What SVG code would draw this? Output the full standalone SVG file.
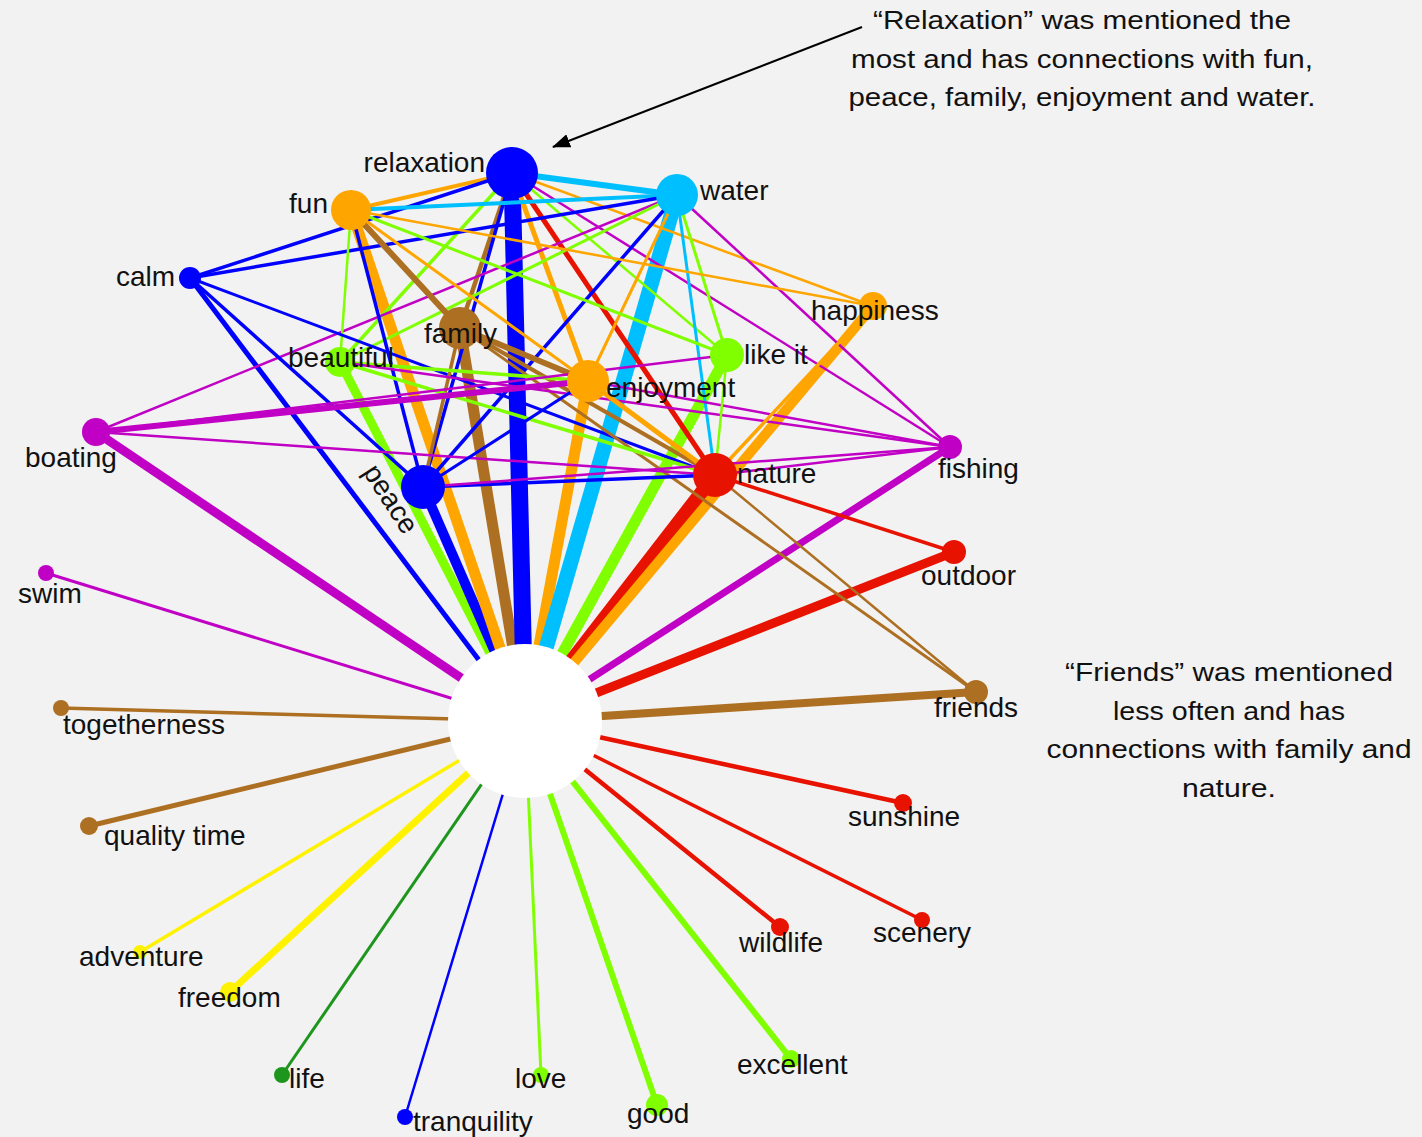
<svg xmlns="http://www.w3.org/2000/svg" width="1422" height="1137" viewBox="0 0 1422 1137">
<style>
.bg{fill:#F2F2F2}
line{fill:none}
.sb{stroke:#0000FF}.ss{stroke:#00BFFF}.so{stroke:#FFA500}.sg{stroke:#80FF00}.sn{stroke:#AD6F21}.sm{stroke:#C000C4}.sr{stroke:#E81200}.sy{stroke:#FFF200}.sd{stroke:#1E961E}
.fb{fill:#0000FF}.fs{fill:#00BFFF}.fo{fill:#FFA500}.fg{fill:#80FF00}.fn{fill:#AD6F21}.fm{fill:#C000C4}.fr{fill:#E81200}.fy{fill:#FFF200}.fd{fill:#1E961E}
.lbl{font-family:"Liberation Sans",Arial,sans-serif;font-size:28px;fill:#111}
.note{font-family:"Liberation Sans",Arial,sans-serif;font-size:26px;fill:#111;text-anchor:middle}
</style>
<defs>
<marker id="arrow" markerUnits="userSpaceOnUse" markerWidth="18" markerHeight="14" refX="17" refY="7" orient="auto">
<path d="M0,0 L18,7 L0,14 z" fill="#000"/>
</marker>
</defs>
<rect class="bg" x="0" y="0" width="1422" height="1137"/>
<g id="connectors">
<!-- spokes to hub -->
<line class="sm" x1="96" y1="432" x2="525" y2="721" stroke-width="9"/>
<line class="sb" x1="190" y1="278" x2="525" y2="721" stroke-width="5"/>
<line class="sg" x1="340" y1="362" x2="525" y2="721" stroke-width="9"/>
<line class="sb" x1="423" y1="487" x2="525" y2="721" stroke-width="10"/>
<line class="so" x1="351" y1="210" x2="525" y2="721" stroke-width="11"/>
<line class="sn" x1="460" y1="328" x2="525" y2="721" stroke-width="11"/>
<line class="sb" x1="512" y1="173" x2="525" y2="721" stroke-width="17"/>
<line class="so" x1="588" y1="381" x2="525" y2="721" stroke-width="11"/>
<line class="ss" x1="677" y1="195" x2="525" y2="721" stroke-width="15"/>
<line class="sg" x1="727" y1="355" x2="525" y2="721" stroke-width="11"/>
<line class="sr" x1="715" y1="475" x2="525" y2="721" stroke-width="14"/>
<line class="so" x1="873" y1="306" x2="525" y2="721" stroke-width="10"/>
<line class="sm" x1="950" y1="447" x2="525" y2="721" stroke-width="7"/>
<line class="sr" x1="954" y1="552" x2="525" y2="721" stroke-width="9"/>
<line class="sn" x1="976" y1="692" x2="525" y2="721" stroke-width="8"/>
<line class="sm" x1="46" y1="573" x2="525" y2="721" stroke-width="3"/>
<line class="sn" x1="61" y1="708" x2="525" y2="721" stroke-width="3.5"/>
<line class="sn" x1="89" y1="826" x2="525" y2="721" stroke-width="5"/>
<line class="sy" x1="140" y1="952" x2="525" y2="721" stroke-width="3.5"/>
<line class="sy" x1="230" y1="992" x2="525" y2="721" stroke-width="7"/>
<line class="sd" x1="282" y1="1075" x2="525" y2="721" stroke-width="3"/>
<line class="sb" x1="405" y1="1117" x2="525" y2="721" stroke-width="2.5"/>
<line class="sg" x1="541" y1="1075" x2="525" y2="721" stroke-width="3"/>
<line class="sg" x1="657" y1="1105" x2="525" y2="721" stroke-width="6"/>
<line class="sg" x1="791" y1="1059" x2="525" y2="721" stroke-width="6"/>
<line class="sr" x1="780" y1="927" x2="525" y2="721" stroke-width="4.5"/>
<line class="sr" x1="922" y1="920" x2="525" y2="721" stroke-width="3.5"/>
<line class="sr" x1="903" y1="803" x2="525" y2="721" stroke-width="4.5"/>
<!-- links between words -->
<line class="ss" x1="512" y1="173" x2="677" y2="195" stroke-width="6"/>
<line class="so" x1="512" y1="173" x2="351" y2="210" stroke-width="4"/>
<line class="sb" x1="512" y1="173" x2="190" y2="278" stroke-width="3.5"/>
<line class="sn" x1="512" y1="173" x2="460" y2="328" stroke-width="4.5"/>
<line class="sb" x1="512" y1="173" x2="423" y2="487" stroke-width="3.5"/>
<line class="sg" x1="512" y1="173" x2="340" y2="362" stroke-width="3.5"/>
<line class="so" x1="512" y1="173" x2="588" y2="381" stroke-width="5"/>
<line class="sr" x1="512" y1="173" x2="715" y2="475" stroke-width="5"/>
<line class="sg" x1="512" y1="173" x2="727" y2="355" stroke-width="2.5"/>
<line class="so" x1="512" y1="173" x2="873" y2="306" stroke-width="2.5"/>
<line class="sm" x1="512" y1="173" x2="950" y2="447" stroke-width="2.5"/>
<line class="ss" x1="677" y1="195" x2="351" y2="210" stroke-width="4"/>
<line class="sb" x1="677" y1="195" x2="190" y2="278" stroke-width="3.5"/>
<line class="sm" x1="677" y1="195" x2="96" y2="432" stroke-width="2.5"/>
<line class="sg" x1="677" y1="195" x2="340" y2="362" stroke-width="3"/>
<line class="sb" x1="677" y1="195" x2="423" y2="487" stroke-width="3.5"/>
<line class="so" x1="677" y1="195" x2="588" y2="381" stroke-width="3"/>
<line class="sg" x1="677" y1="195" x2="727" y2="355" stroke-width="3"/>
<line class="ss" x1="677" y1="195" x2="715" y2="475" stroke-width="3"/>
<line class="sm" x1="677" y1="195" x2="950" y2="447" stroke-width="2.5"/>
<line class="sg" x1="351" y1="210" x2="340" y2="362" stroke-width="2.5"/>
<line class="sb" x1="351" y1="210" x2="423" y2="487" stroke-width="3.5"/>
<line class="sn" x1="351" y1="210" x2="460" y2="328" stroke-width="6"/>
<line class="so" x1="351" y1="210" x2="588" y2="381" stroke-width="3"/>
<line class="sg" x1="351" y1="210" x2="727" y2="355" stroke-width="3"/>
<line class="so" x1="351" y1="210" x2="873" y2="306" stroke-width="2.5"/>
<line class="sb" x1="190" y1="278" x2="423" y2="487" stroke-width="3.5"/>
<line class="sb" x1="190" y1="278" x2="715" y2="475" stroke-width="3"/>
<line class="sn" x1="460" y1="328" x2="588" y2="381" stroke-width="6"/>
<line class="sn" x1="460" y1="328" x2="715" y2="475" stroke-width="4"/>
<line class="sn" x1="460" y1="328" x2="976" y2="692" stroke-width="3"/>
<line class="sn" x1="460" y1="328" x2="423" y2="487" stroke-width="3.5"/>
<line class="sg" x1="340" y1="362" x2="588" y2="381" stroke-width="3.5"/>
<line class="sg" x1="340" y1="362" x2="715" y2="475" stroke-width="3.5"/>
<line class="sm" x1="340" y1="362" x2="950" y2="447" stroke-width="2.5"/>
<line class="sm" x1="96" y1="432" x2="588" y2="381" stroke-width="6"/>
<line class="sm" x1="96" y1="432" x2="727" y2="355" stroke-width="2.5"/>
<line class="sm" x1="96" y1="432" x2="715" y2="475" stroke-width="2.5"/>
<line class="sb" x1="423" y1="487" x2="715" y2="475" stroke-width="3.5"/>
<line class="sm" x1="423" y1="487" x2="950" y2="447" stroke-width="2.5"/>
<line class="sb" x1="423" y1="487" x2="588" y2="381" stroke-width="3"/>
<line class="so" x1="588" y1="381" x2="715" y2="475" stroke-width="5"/>
<line class="sm" x1="588" y1="381" x2="950" y2="447" stroke-width="2.5"/>
<line class="sg" x1="727" y1="355" x2="715" y2="475" stroke-width="2.5"/>
<line class="so" x1="873" y1="306" x2="715" y2="475" stroke-width="3.5"/>
<line class="sm" x1="715" y1="475" x2="950" y2="447" stroke-width="2.5"/>
<line class="sr" x1="715" y1="475" x2="954" y2="552" stroke-width="3.5"/>
<line class="sn" x1="715" y1="475" x2="976" y2="692" stroke-width="2.5"/>
<!-- annotation arrow -->
<line x1="862" y1="27" x2="553" y2="147" stroke="#000" stroke-width="2" marker-end="url(#arrow)"/>
</g>
<g id="node-hub"><circle cx="525" cy="721" r="77" fill="#FFFFFF"/></g>
<g id="node-relaxation"><circle class="fb" cx="512" cy="173" r="26"/><text class="lbl" x="485" y="172" text-anchor="end">relaxation</text></g>
<g id="node-water"><circle class="fs" cx="677" cy="195" r="21"/><text class="lbl" x="700" y="200">water</text></g>
<g id="node-fun"><circle class="fo" cx="351" cy="210" r="20"/><text class="lbl" x="328" y="213" text-anchor="end">fun</text></g>
<g id="node-calm"><circle class="fb" cx="190" cy="278" r="11"/><text class="lbl" x="175" y="286" text-anchor="end">calm</text></g>
<g id="node-family"><circle class="fn" cx="460" cy="328" r="21"/><text class="lbl" x="424" y="343">family</text></g>
<g id="node-beautiful"><circle class="fg" cx="340" cy="362" r="15"/><text class="lbl" x="288" y="367">beautiful</text></g>
<g id="node-likeit"><circle class="fg" cx="727" cy="355" r="17"/><text class="lbl" x="744" y="364">like it</text></g>
<g id="node-happiness"><circle class="fo" cx="873" cy="306" r="14"/><text class="lbl" x="811" y="320">happiness</text></g>
<g id="node-enjoyment"><circle class="fo" cx="588" cy="381" r="21"/><text class="lbl" x="606" y="397">enjoyment</text></g>
<g id="node-boating"><circle class="fm" cx="96" cy="432" r="14"/><text class="lbl" x="25" y="467">boating</text></g>
<g id="node-peace"><circle class="fb" cx="423" cy="487" r="22"/><text class="lbl" x="383" y="504" text-anchor="middle" transform="rotate(57 383 504)">peace</text></g>
<g id="node-nature"><circle class="fr" cx="715" cy="475" r="22"/><text class="lbl" x="737" y="483">nature</text></g>
<g id="node-fishing"><circle class="fm" cx="950" cy="447" r="12"/><text class="lbl" x="938" y="478">fishing</text></g>
<g id="node-outdoor"><circle class="fr" cx="954" cy="552" r="12"/><text class="lbl" x="921" y="585">outdoor</text></g>
<g id="node-friends"><circle class="fn" cx="976" cy="692" r="12"/><text class="lbl" x="934" y="717">friends</text></g>
<g id="node-swim"><circle class="fm" cx="46" cy="573" r="8"/><text class="lbl" x="18" y="603">swim</text></g>
<g id="node-togetherness"><circle class="fn" cx="61" cy="708" r="8"/><text class="lbl" x="63" y="734">togetherness</text></g>
<g id="node-qualitytime"><circle class="fn" cx="89" cy="826" r="9"/><text class="lbl" x="104" y="845">quality time</text></g>
<g id="node-sunshine"><circle class="fr" cx="903" cy="803" r="9"/><text class="lbl" x="848" y="826">sunshine</text></g>
<g id="node-scenery"><circle class="fr" cx="922" cy="920" r="8"/><text class="lbl" x="873" y="942">scenery</text></g>
<g id="node-wildlife"><circle class="fr" cx="780" cy="927" r="9"/><text class="lbl" x="739" y="952">wildlife</text></g>
<g id="node-adventure"><circle class="fy" cx="140" cy="952" r="7"/><text class="lbl" x="79" y="966">adventure</text></g>
<g id="node-freedom"><circle class="fy" cx="230" cy="992" r="10"/><text class="lbl" x="178" y="1007">freedom</text></g>
<g id="node-life"><circle class="fd" cx="282" cy="1075" r="8"/><text class="lbl" x="289" y="1088">life</text></g>
<g id="node-tranquility"><circle class="fb" cx="405" cy="1117" r="8"/><text class="lbl" x="413" y="1131">tranquility</text></g>
<g id="node-love"><circle class="fg" cx="541" cy="1075" r="8"/><text class="lbl" x="515" y="1088">love</text></g>
<g id="node-good"><circle class="fg" cx="657" cy="1105" r="11"/><text class="lbl" x="627" y="1123">good</text></g>
<g id="node-excellent"><circle class="fg" cx="791" cy="1059" r="9"/><text class="lbl" x="737" y="1074">excellent</text></g>
<g id="note-relaxation">
<text class="note" x="1082" y="29" textLength="418" lengthAdjust="spacingAndGlyphs">“Relaxation” was mentioned the</text>
<text class="note" x="1082" y="68" textLength="462" lengthAdjust="spacingAndGlyphs">most and has connections with fun,</text>
<text class="note" x="1082" y="106" textLength="467" lengthAdjust="spacingAndGlyphs">peace, family, enjoyment and water.</text>
</g>
<g id="note-friends">
<text class="note" x="1229" y="681" textLength="328" lengthAdjust="spacingAndGlyphs">“Friends” was mentioned</text>
<text class="note" x="1229" y="720" textLength="232" lengthAdjust="spacingAndGlyphs">less often and has</text>
<text class="note" x="1229" y="758" textLength="365" lengthAdjust="spacingAndGlyphs">connections with family and</text>
<text class="note" x="1229" y="797" textLength="94" lengthAdjust="spacingAndGlyphs">nature.</text>
</g>
</svg>
